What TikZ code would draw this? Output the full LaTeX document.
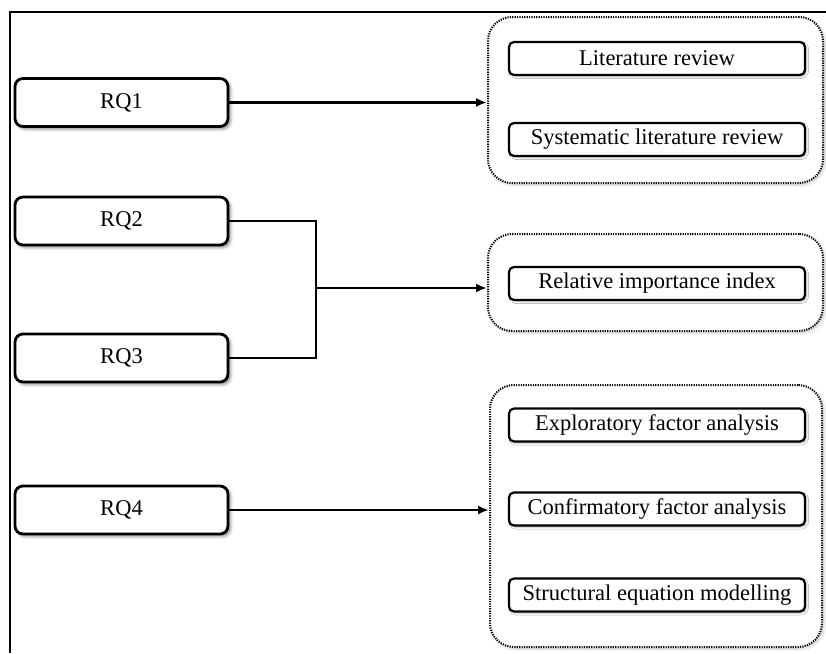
\documentclass[tikz,border=0pt]{standalone}
\usepackage{fontspec}
\setmainfont{Liberation Serif}
\usetikzlibrary{arrows.meta,shadows.blur}

\tikzset{
  rqbox/.style={draw, line width=2.8pt, rounded corners=8pt, fill=white,
    minimum width=213pt, minimum height=48pt, inner sep=0pt,
    blur shadow={shadow xshift=2.5pt, shadow yshift=-2.5pt, shadow blur radius=3pt, shadow opacity=45}},
  methodbox/.style={draw, line width=2.2pt, rounded corners=5pt, fill=white,
    minimum width=296pt, minimum height=33pt, inner sep=0pt,
    blur shadow={shadow xshift=1.5pt, shadow yshift=-1.5pt, shadow blur radius=2pt, shadow opacity=30}},
  groupbox/.style={draw, line width=2pt, dash pattern=on 1.2pt off 1.2pt,
    rounded corners=24pt, fill=white,
    blur shadow={shadow xshift=2pt, shadow yshift=-2pt, shadow blur radius=3pt, shadow opacity=20}},
  link/.style={line width=2.2pt},
  arrowlink/.style={link, -{Latex[length=11pt,width=9pt]}},
  frame/.style={line width=2.8pt},
  txt/.style={font=\fontsize{22.5}{26}\selectfont}
}

\begin{document}
\begin{tikzpicture}[x=1pt, y=-1pt]
  \useasboundingbox (0,0) rectangle (826,653);

  % outer frame (top and left edges)
  \draw[frame] (826,12) -- (10,12) -- (10,653);

  % research questions
  \node[rqbox, txt] (rq1) at (121.5,102.5) {RQ1};
  \node[rqbox, txt] (rq2) at (121.5,221)   {RQ2};
  \node[rqbox, txt] (rq3) at (121.5,358)   {RQ3};
  \node[rqbox, txt] (rq4) at (121.5,510)   {RQ4};

  % method groups
  \node[groupbox, minimum width=335pt, minimum height=166pt] (g1) at (655.5,100) {};
  \node[groupbox, minimum width=335pt, minimum height=97pt]  (g2) at (655.5,282.5) {};
  \node[groupbox, minimum width=332pt, minimum height=262pt] (g3) at (656,516) {};

  % methods
  \node[methodbox, txt] (lr)  at (657,58.5)  {Literature review};
  \node[methodbox, txt] (slr) at (657,139.5) {Systematic literature review};
  \node[methodbox, txt] (rii) at (657,283.5) {Relative importance index};
  \node[methodbox, txt] (efa) at (657,425)   {Exploratory factor analysis};
  \node[methodbox, txt] (cfa) at (657,509)   {Confirmatory factor analysis};
  \node[methodbox, txt] (sem) at (657,595)   {Structural equation modelling};

  % connectors
  \draw[arrowlink] (rq1.east) -- (rq1.east -| g1.west);

  \coordinate (join) at (316,288);
  \draw[link] (rq2.east) -| (join) |- (rq3.east);
  \draw[arrowlink] (join) -- (join -| g2.west);

  \draw[arrowlink] (rq4.east) -- (rq4.east -| g3.west);
\end{tikzpicture}
\end{document}
